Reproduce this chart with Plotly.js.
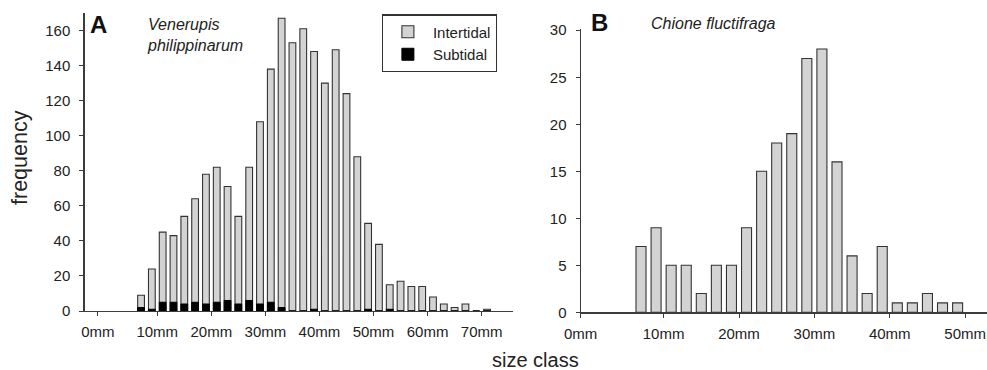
<!DOCTYPE html>
<html>
<head>
<meta charset="utf-8">
<script src="https://cdn.plot.ly/plotly-3.0.1.min.js"></script>
<style>
  html, body { margin: 0; padding: 0; background: #fff; }
  #chart { width: 987px; height: 370px; }
</style>
</head>
<body>
<div id="chart"></div>
<script>
// ---- Data ----
// Panel A: Venerupis philippinarum, 2 mm size bins (bin centres in mm)
const sizeBinsA = [7, 9, 11, 13, 15, 17, 19, 21, 23, 25, 27, 29, 31, 33, 35, 37, 39, 41, 43, 45, 47, 49, 51, 53, 55, 57, 59, 61, 63, 65, 67, 69, 71];
const intertidalA = [9, 24, 45, 43, 54, 64, 78, 82, 71, 54, 82, 108, 138, 167, 153, 161, 148, 130, 149, 124, 88, 50, 38, 15, 17, 14, 14, 8, 4, 2, 4, 0, 1];
const subtidalA = [2, 1, 5, 5, 4, 5, 4, 5, 6, 4, 6, 4, 5, 2, 0, 0, 1, 0, 0, 0, 0, 1, 0, 1, 0, 0, 0, 0, 0, 0, 0, 0, 0];

// Panel B: Chione fluctifraga
const sizeBinsB = [7, 9, 11, 13, 15, 17, 19, 21, 23, 25, 27, 29, 31, 33, 35, 37, 39, 41, 43, 45, 47, 49];
const intertidalB = [7, 9, 5, 5, 2, 5, 5, 9, 15, 18, 19, 27, 28, 16, 6, 2, 7, 1, 1, 2, 1, 1];

// Tick labels
const xTickValsA = [-1, 10, 20, 30, 40, 50, 60, 70];
const xTickTextA = ['0mm', '10mm', '20mm', '30mm', '40mm', '50mm', '60mm', '70mm'];
const xTickValsB = [-1, 10, 20, 30, 40, 50];
const xTickTextB = ['0mm', '10mm', '20mm', '30mm', '40mm', '50mm'];
const yTickValsA = [0, 20, 40, 60, 80, 100, 120, 140, 160];
const yTickValsB = [0, 5, 10, 15, 20, 25, 30];

// ---- Styling ----
const W = 987, H = 370;
const px = v => v / W;
const py = v => 1 - v / H;
const FONT = '"Liberation Sans", Arial, Helvetica, sans-serif';
const INK = '#222';
const AXC = '#3c3c3c';
const GREY = '#d3d3d3';
const EDGE = '#333';

const traces = [
  {
    type: 'bar', name: 'Intertidal', x: sizeBinsA, y: intertidalA, width: 1.25,
    xaxis: 'x', yaxis: 'y',
    marker: { color: GREY, line: { color: EDGE, width: 1.1 } },
    hoverinfo: 'x+y'
  },
  {
    type: 'bar', name: 'Subtidal', x: sizeBinsA, y: subtidalA, width: 1.25,
    xaxis: 'x', yaxis: 'y',
    marker: { color: '#000', line: { color: '#000', width: 1 } },
    hoverinfo: 'x+y'
  },
  {
    type: 'bar', name: 'Intertidal', x: sizeBinsB, y: intertidalB, width: 1.33,
    xaxis: 'x2', yaxis: 'y2', showlegend: false,
    marker: { color: GREY, line: { color: EDGE, width: 1.1 } },
    hoverinfo: 'x+y'
  }
];

const axisCommon = {
  showgrid: false, zeroline: false, showline: true, linecolor: AXC, linewidth: 1.2,
  ticks: 'outside', ticklen: 4, tickwidth: 1, tickcolor: AXC,
  tickfont: { family: FONT, size: 15, color: INK }, fixedrange: true
};

const layout = {
  width: W, height: H,
  margin: { l: 0, r: 0, t: 0, b: 0, pad: 0 },
  paper_bgcolor: '#fff', plot_bgcolor: '#fff',
  font: { family: FONT, color: INK },
  barmode: 'overlay',
  showlegend: true,
  legend: {
    x: px(381.7), y: py(14.3), xanchor: 'left', yanchor: 'top',
    bordercolor: EDGE, borderwidth: 1.2, bgcolor: '#fff',
    font: { family: FONT, size: 15, color: INK },
    traceorder: 'normal', tracegroupgap: 0, itemwidth: 40
  },
  xaxis: Object.assign({}, axisCommon, {
    domain: [px(84.5), px(513)], range: [-3.46, 75.8],
    tickmode: 'array', tickvals: xTickValsA, ticktext: xTickTextA,
    anchor: 'y', ticklabelstandoff: 3
  }),
  yaxis: Object.assign({}, axisCommon, {
    domain: [py(311), py(13)], range: [0, 170],
    tickmode: 'array', tickvals: yTickValsA,
    anchor: 'x', ticklabelstandoff: 6
  }),
  xaxis2: Object.assign({}, axisCommon, {
    domain: [px(580.7), 1], range: [-1, 52.9],
    tickmode: 'array', tickvals: xTickValsB, ticktext: xTickTextB,
    anchor: 'y2', ticklabelstandoff: 3
  }),
  yaxis2: Object.assign({}, axisCommon, {
    domain: [py(312.3), py(29.3)], range: [0, 30.1],
    tickmode: 'array', tickvals: yTickValsB,
    anchor: 'x2', ticklabelstandoff: 6
  }),
  annotations: [
    { text: '<b>A</b>', xref: 'paper', yref: 'paper', x: px(98.5), y: py(24.5),
      xanchor: 'center', yanchor: 'middle', showarrow: false,
      font: { family: FONT, size: 24, color: '#111' } },
    { text: '<i>Venerupis</i><br><i>philippinarum</i>', xref: 'paper', yref: 'paper',
      x: px(145), y: py(35), xanchor: 'left', yanchor: 'middle', align: 'left', showarrow: false,
      font: { family: FONT, size: 16, color: INK } },
    { text: '<b>B</b>', xref: 'paper', yref: 'paper', x: px(599), y: py(22),
      xanchor: 'center', yanchor: 'middle', showarrow: false,
      font: { family: FONT, size: 24, color: '#111' } },
    { text: '<i>Chione fluctifraga</i>', xref: 'paper', yref: 'paper',
      x: px(649), y: py(23), xanchor: 'left', yanchor: 'middle', showarrow: false,
      font: { family: FONT, size: 16, color: INK } },
    { text: 'frequency', xref: 'paper', yref: 'paper', x: px(20), y: py(158),
      xanchor: 'center', yanchor: 'middle', textangle: -90, showarrow: false,
      font: { family: FONT, size: 21.5, color: INK } },
    { text: 'size class', xref: 'paper', yref: 'paper', x: px(535), y: py(360),
      xanchor: 'center', yanchor: 'middle', showarrow: false,
      font: { family: FONT, size: 20, color: INK } }
  ]
};

Plotly.newPlot('chart', traces, layout, { displayModeBar: false, staticPlot: true });
</script>
</body>
</html>
